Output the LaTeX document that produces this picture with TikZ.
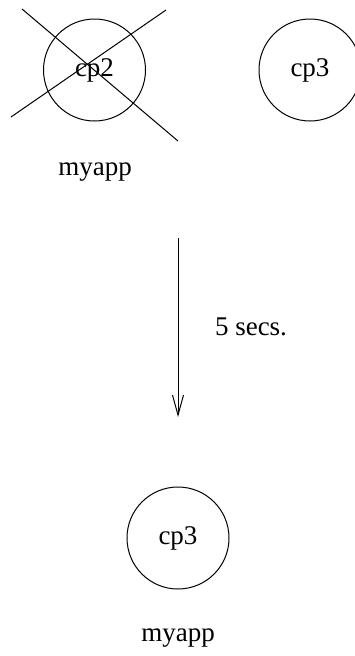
\documentclass[tikz,border=0pt]{standalone}
\usepackage{fontspec}
\setmainfont{Liberation Serif}
\usetikzlibrary{arrows.meta}
\begin{document}
\begin{tikzpicture}[x=1pt,y=-1pt,line width=1pt,
  proc/.style={circle,draw,minimum size=102pt,inner sep=0pt,font=\fontsize{27}{30}\selectfont},
  lbl/.style={font=\fontsize{27}{30}\selectfont,inner sep=0pt}]
\clip (0,0) rectangle (355,656);
\useasboundingbox (0,0) rectangle (355,656);
\node[proc] (cp2) at (94.5,70) {cp2};
\node[proc] (cp3a) at (310,70) {cp3};
\node[lbl] (app1) at (95,172) {myapp};
\coordinate (x1a) at (22,9);
\coordinate (x1b) at (178,141);
\coordinate (x2a) at (11,117);
\coordinate (x2b) at (166,10);
\draw (x1a) -- (x1b);
\draw (x2a) -- (x2b);
\coordinate (arrS) at (178,238);
\coordinate (arrE) at (178,417);
\draw[-{Straight Barb[length=20pt,width=11pt]}] (arrS) -- (arrE);
\node[lbl] (t) at (251,327) {5 secs.};
\node[proc] (cp3b) at (178,538) {cp3};
\node[lbl] (app2) at (178,638) {myapp};
\end{tikzpicture}
\end{document}
